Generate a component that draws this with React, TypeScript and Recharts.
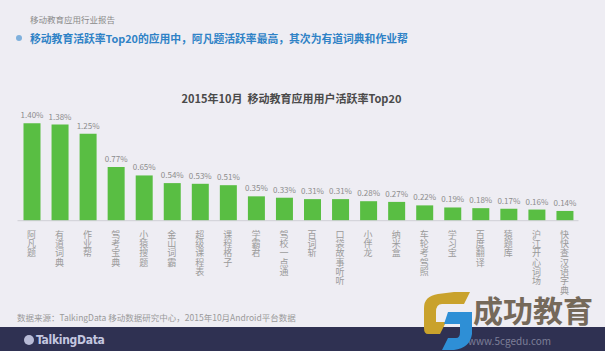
import React from 'react';
import { BarChart, Bar, XAxis, YAxis, LabelList } from 'recharts';

const categories = ['阿凡题', '有道词典', '作业帮', '驾考宝典', '小猿搜题', '金山词霸', '超级课程表', '课程格子', '学霸君', '驾校一点通', '百词斩', '口袋故事听听', '小伴龙', '纳米盒', '车轮考驾照', '学习宝', '百度翻译', '猿题库', '沪江开心词场', '快快查汉语字典'];
const activeRates = [1.40, 1.38, 1.25, 0.77, 0.65, 0.54, 0.53, 0.51, 0.35, 0.33, 0.31, 0.31, 0.28, 0.27, 0.22, 0.19, 0.18, 0.17, 0.16, 0.14];

const data = categories.map((name, i) => ({ name, v: activeRates[i] }));

const FONT = '"Noto Sans CJK SC", "Noto Sans", sans-serif';

const VerticalTick = (props: any) => {
  const { x, y, payload } = props;
  const chars = String(payload.value).split('');
  return (
    <text x={x} y={y + 9} textAnchor="middle" fontSize={9} fill="#9a9a9a" fontFamily={FONT}>
      {chars.map((c, i) => (
        <tspan key={i} x={x} dy={i === 0 ? 0 : 9.3}>
          {c}
        </tspan>
      ))}
    </text>
  );
};

export default function App() {
  return (
    <div style={{ position: 'fixed', left: 0, top: 0, width: 605, height: 351, background: '#eeedf3', overflow: 'hidden', fontFamily: FONT }}>
      <div style={{ position: 'absolute', left: 30, top: 12, fontSize: 8.5, color: '#8a8a8a', whiteSpace: 'nowrap', lineHeight: '14px' }}>移动教育应用行业报告</div>
      <div style={{ position: 'absolute', left: 16, top: 35, width: 6, height: 6, borderRadius: 3, background: '#7fb0dc' }} />
      <div style={{ position: 'absolute', left: 30, top: 30, fontSize: 10.8, fontWeight: 700, color: '#2f82c6', whiteSpace: 'nowrap', lineHeight: '16px' }}>移动教育活跃率Top20的应用中，阿凡题活跃率最高，其次为有道词典和作业帮</div>
      <div style={{ position: 'absolute', left: 0, width: 583, top: 90, textAlign: 'center', fontSize: 11, fontWeight: 700, color: '#4a4a4a', whiteSpace: 'nowrap', lineHeight: '16px' }}>2015年10月&nbsp;&nbsp;移动教育应用用户活跃率Top20</div>
      <div style={{ position: 'absolute', left: 0, top: 0 }}>
        <BarChart width={605} height={351} data={data} margin={{ top: 109.3, right: 26.5, left: 17.5, bottom: 50.3 }}>
          <YAxis hide domain={[0, 1.6]} />
          <XAxis dataKey="name" interval={0} height={80} tickLine={false} axisLine={{ stroke: '#cfcfd6' }} tick={<VerticalTick />} />
          <Bar dataKey="v" fill="#59be43" barSize={17} isAnimationActive={false}>
            <LabelList dataKey="v" position="top" offset={5} fontSize={8} fill="#8c8c8c" fontFamily={FONT} formatter={(v: any) => Number(v).toFixed(2) + '%'} />
          </Bar>
        </BarChart>
      </div>
      <div style={{ position: 'absolute', left: 17, top: 310, fontSize: 8.5, color: '#9a9a9a', whiteSpace: 'nowrap', lineHeight: '14px' }}>数据来源：TalkingData 移动数据研究中心，2015年10月Android平台数据</div>
      <div style={{ position: 'absolute', left: 0, top: 327, width: 605, height: 24, background: '#2f3152' }} />
      <div style={{ position: 'absolute', left: 24, top: 335, width: 10, height: 10, borderRadius: 5, background: '#b8bbd6' }} />
      <div style={{ position: 'absolute', left: 36, top: 331, fontSize: 12, fontWeight: 700, color: '#c4c7e0', whiteSpace: 'nowrap', lineHeight: '18px', fontFamily: '"DejaVu Sans Condensed", "DejaVu Sans", sans-serif', letterSpacing: -0.3 }}>TalkingData</div>
      <div style={{ position: 'absolute', left: 468, top: 335, fontSize: 10, color: '#7d7f98', whiteSpace: 'nowrap', lineHeight: '12px' }}>www.5cgedu.com</div>
      <svg style={{ position: 'absolute', left: 424, top: 292 }} width={50} height={59}>
        <path d="M30 0 L46 0 L40 12 L18 12 Q12 12 12 20 L12 30 L22 30 L16 42 L4 42 Q0 42 0 36 L0 16 Q0 4 14 2 Z" fill="#c9a22c" />
        <path d="M24 20 L48 20 L48 42 Q46 56 30 58 L18 58 L24 46 L32 46 Q36 46 36 40 L36 32 L20 32 Z" fill="#2e8fd6" />
      </svg>
      <div style={{ position: 'absolute', left: 473, top: 291, fontSize: 30, fontWeight: 700, color: '#75695a', whiteSpace: 'nowrap', lineHeight: '36px' }}>成功教育</div>
    </div>
  );
}
